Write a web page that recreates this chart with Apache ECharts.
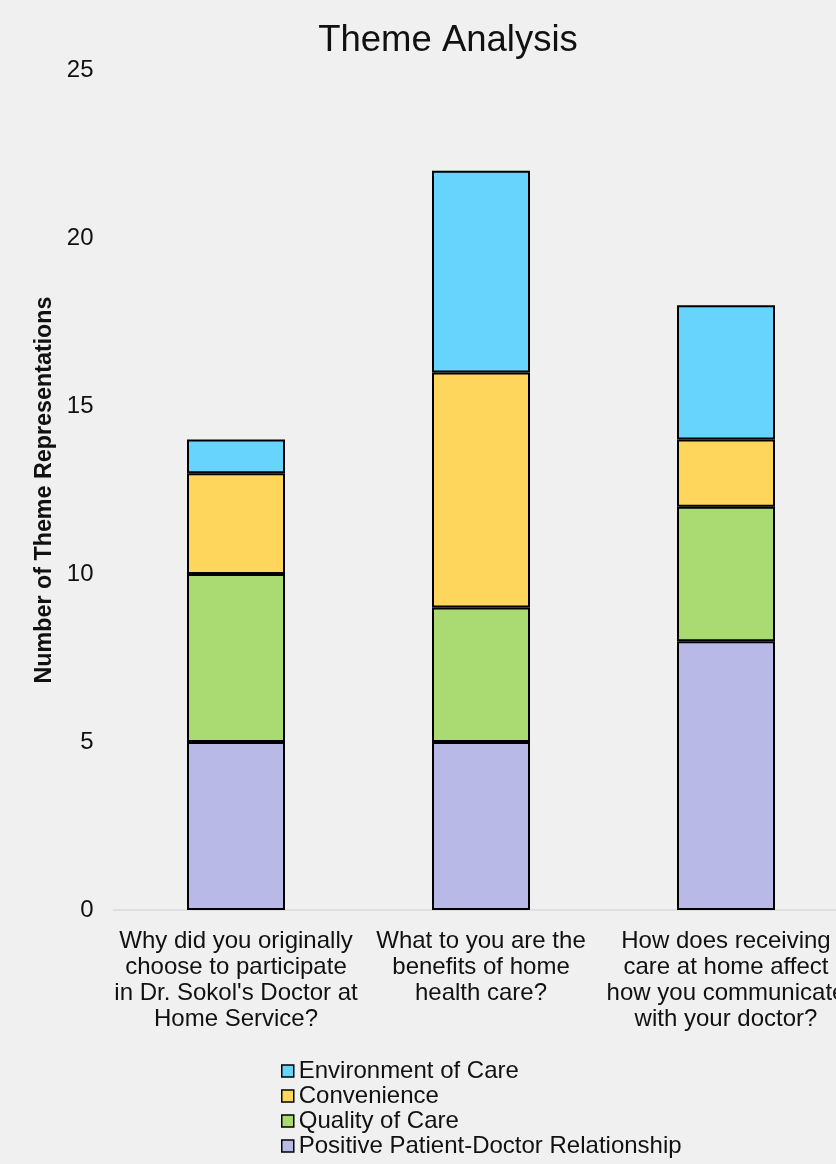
<!DOCTYPE html>
<html><head><meta charset="utf-8">
<script src="https://cdn.jsdelivr.net/npm/echarts@6/dist/echarts.min.js"></script>
<style>html,body{margin:0;padding:0;background:#f0f0f0;overflow:hidden;width:836px;height:1164px;}#c{width:860px;height:1164px;}</style>
</head><body><div id="c"></div>
<script>
const categories = [
  "Why did you originally\nchoose to participate\nin Dr. Sokol's Doctor at\nHome Service?",
  "What to you are the\nbenefits of home\nhealth care?",
  "How does receiving\ncare at home affect\nhow you communicate\nwith your doctor?"
];
const seriesNames = ["Positive Patient-Doctor Relationship", "Quality of Care", "Convenience", "Environment of Care"];
const positive = [5, 5, 8];
const quality = [5, 4, 4];
const convenience = [3, 7, 2];
const environment = [1, 6, 4];
const colors = ["#b8b9e6", "#a9db72", "#ffd65c", "#66d4fc"];
const values = [positive, quality, convenience, environment];
const FONT = 'Arial';

const chart = echarts.init(document.getElementById('c'));
chart.setOption({
  backgroundColor: '#f0f0f0',
  animation: false,
  title: {
    text: 'Theme Analysis', left: 443, top: 17, textAlign: 'center',
    textStyle: { fontFamily: FONT, fontSize: 36.5, fontWeight: 'normal', color: '#111' }
  },
  legend: {
    orient: 'vertical', left: 281, top: 1058.5, padding: 0, height: 110,
    data: seriesNames.slice().reverse(),
    itemWidth: 12, itemHeight: 12, itemGap: 0,
    icon: 'rect',
    itemStyle: { borderColor: '#000', borderWidth: 1.5 },
    textStyle: { fontFamily: FONT, fontSize: 24, color: '#111', lineHeight: 25 }
  },
  grid: { left: 113.5, top: 70, width: 735, height: 840, containLabel: false },
  xAxis: {
    type: 'category', data: categories,
    axisLine: { lineStyle: { color: '#d9d9d9', width: 1.5 } },
    axisTick: { show: false },
    axisLabel: { interval: 0, fontFamily: FONT, fontSize: 24, color: '#111', lineHeight: 26, margin: 18, align: 'center' }
  },
  yAxis: {
    type: 'value', min: 0, max: 25, interval: 5,
    name: 'Number of Theme Representations', nameLocation: 'middle', nameGap: 56, nameRotate: 90,
    nameTextStyle: { fontFamily: FONT, fontSize: 23.3, fontWeight: 'bold', color: '#111' },
    axisLine: { show: false }, axisTick: { show: false }, splitLine: { show: false },
    axisLabel: { fontFamily: FONT, fontSize: 24, color: '#111', margin: 20 }
  },
  series: seriesNames.map((n, i) => ({
    name: n, type: 'bar', stack: 'total', barWidth: '40%',
    data: values[i],
    itemStyle: { color: colors[i], borderColor: '#000', borderWidth: 2 }
  }))
});
</script></body></html>
